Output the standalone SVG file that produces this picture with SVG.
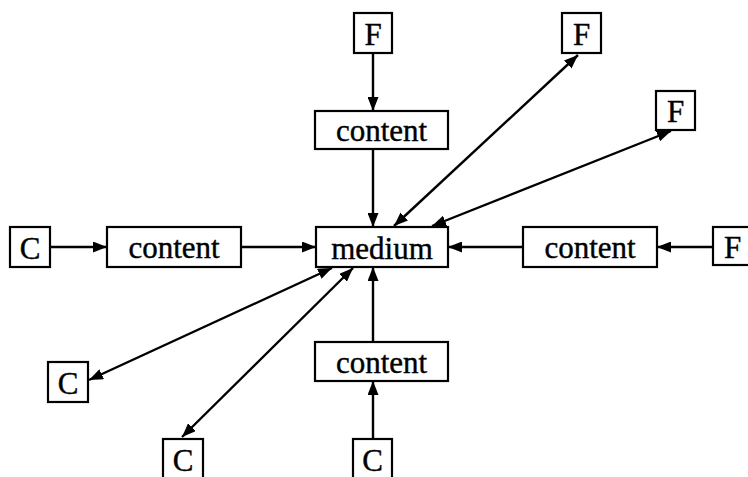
<svg xmlns="http://www.w3.org/2000/svg" width="748" height="477" viewBox="0 0 748 477">
  <style>
    .box { fill: #fff; stroke: #000; stroke-width: 2.2; }
    .lbl { font-family: "Liberation Serif", "Times New Roman", serif; font-size: 31px; fill: #000; stroke: #000; stroke-width: 0.4; text-anchor: middle; }
    .edge { stroke: #000; stroke-width: 2.4; fill: none; }
    .one { marker-end: url(#head); }
    .two { marker-start: url(#tail); marker-end: url(#head); }
  </style>
  <defs>
    <marker id="head" viewBox="0 0 14 11" refX="14" refY="5.5" markerWidth="14" markerHeight="11" markerUnits="userSpaceOnUse" orient="auto">
      <path d="M0,0 L14,5.5 L0,11 Z" fill="#000"/>
    </marker>
    <marker id="tail" viewBox="0 0 14 11" refX="0" refY="5.5" markerWidth="14" markerHeight="11" markerUnits="userSpaceOnUse" orient="auto">
      <path d="M14,0 L0,5.5 L14,11 Z" fill="#000"/>
    </marker>
  </defs>

  <g id="connectors">
    <!-- vertical chain above and below the medium -->
    <line class="edge one" x1="373" y1="53" x2="373" y2="111"/>
    <line class="edge one" x1="373" y1="149" x2="373" y2="227"/>
    <line class="edge one" x1="373" y1="439" x2="373" y2="381"/>
    <line class="edge one" x1="373" y1="342" x2="373" y2="267"/>
    <!-- horizontal chain -->
    <line class="edge one" x1="50" y1="247" x2="107" y2="247"/>
    <line class="edge one" x1="241" y1="247" x2="316" y2="247"/>
    <line class="edge one" x1="713" y1="247" x2="657" y2="247"/>
    <line class="edge one" x1="523" y1="247" x2="448" y2="247"/>
    <!-- direct two-way links -->
    <line class="edge two" x1="394" y1="226" x2="578" y2="55"/>
    <line class="edge two" x1="432" y1="226" x2="671" y2="131"/>
    <line class="edge two" x1="332" y1="268" x2="89" y2="380"/>
    <line class="edge two" x1="353" y1="268" x2="182" y2="437"/>
  </g>

  <g id="medium">
    <rect class="box" x="316" y="227" width="132" height="40"/>
    <text class="lbl" x="382" y="259">medium</text>
  </g>

  <g id="content-top">
    <rect class="box" x="315" y="111" width="133" height="38"/>
    <text class="lbl" x="381.5" y="141">content</text>
  </g>
  <g id="content-left">
    <rect class="box" x="107" y="227" width="134" height="40"/>
    <text class="lbl" x="174" y="258">content</text>
  </g>
  <g id="content-right">
    <rect class="box" x="523" y="227" width="134" height="40"/>
    <text class="lbl" x="590" y="258">content</text>
  </g>
  <g id="content-bottom">
    <rect class="box" x="315" y="342" width="133" height="39"/>
    <text class="lbl" x="381.5" y="373">content</text>
  </g>

  <g id="f-top">
    <rect class="box" x="354" y="13" width="38" height="40"/>
    <text class="lbl" x="373" y="45">F</text>
  </g>
  <g id="f-upper-right">
    <rect class="box" x="562" y="13" width="39" height="40"/>
    <text class="lbl" x="581.5" y="45">F</text>
  </g>
  <g id="f-right">
    <rect class="box" x="656" y="91" width="39" height="39"/>
    <text class="lbl" x="675.5" y="122">F</text>
  </g>
  <g id="f-far-right">
    <rect class="box" x="713" y="227" width="39" height="38"/>
    <text class="lbl" x="732.5" y="258">F</text>
  </g>

  <g id="c-left">
    <rect class="box" x="10" y="227" width="40" height="40"/>
    <text class="lbl" x="30" y="259">C</text>
  </g>
  <g id="c-lower-left">
    <rect class="box" x="48" y="362" width="40" height="40"/>
    <text class="lbl" x="68" y="394">C</text>
  </g>
  <g id="c-bottom-left">
    <rect class="box" x="163" y="439" width="40" height="45"/>
    <text class="lbl" x="183" y="471">C</text>
  </g>
  <g id="c-bottom">
    <rect class="box" x="353" y="439" width="39" height="45"/>
    <text class="lbl" x="372.5" y="471">C</text>
  </g>
</svg>
